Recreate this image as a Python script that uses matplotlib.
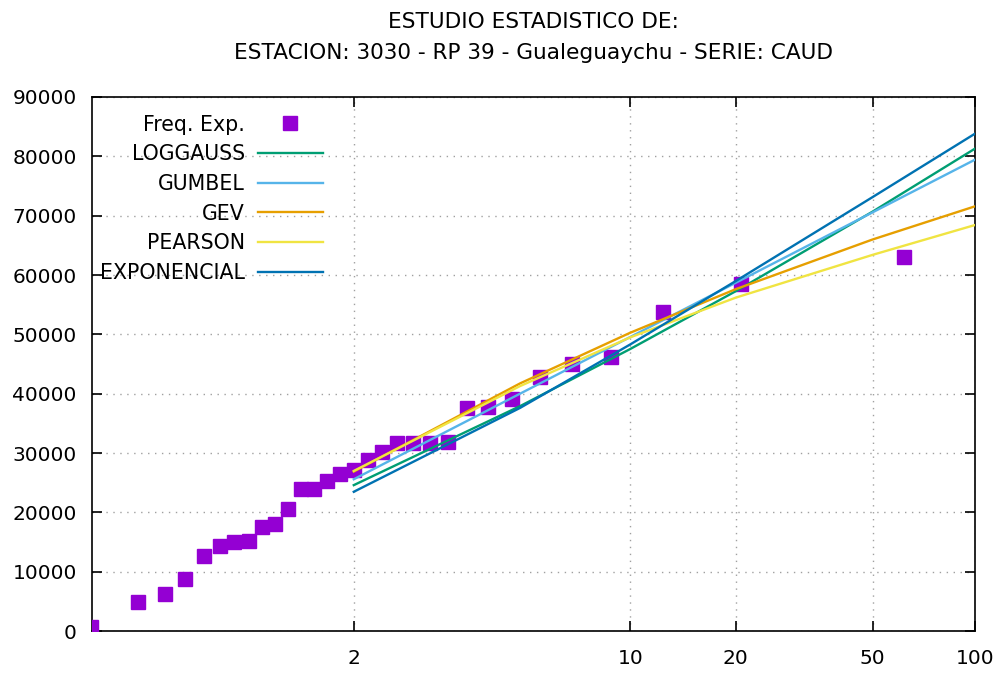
import numpy as np
import matplotlib
matplotlib.use("Agg")
import matplotlib.pyplot as plt
from matplotlib.ticker import NullLocator, FixedLocator

# Observed annual maxima (return period in years, discharge)
periodos_obs = [1.016, 1.051, 1.088, 1.127, 1.170, 1.216, 1.265, 1.319, 1.378, 1.442,
                1.512, 1.590, 1.676, 1.771, 1.879, 2.000, 2.138, 2.296, 2.480, 2.696,
                2.952, 3.263, 3.647, 4.133, 4.769, 5.636, 6.889, 8.857, 12.40, 20.67,
                62.00]
caudal_obs = [700, 4970, 6210, 8740, 12710, 14390, 14960, 15240, 17490, 18050,
              20570, 23940, 23940, 25340, 26460, 27140, 28820, 30110, 31630, 31630,
              31730, 31900, 37520, 37800, 39090, 42850, 44980, 46210, 53790, 58450,
              63050]

# Fitted distributions evaluated at design return periods
periodos_ajuste = [2, 5, 10, 20, 50, 100]
loggauss = [24610, 37920, 47540, 57290, 70680, 81300]
gumbel = [25600, 40020, 49560, 58710, 70560, 79440]
gev = [26900, 41750, 50280, 57630, 65990, 71580]
pearson = [27000, 41300, 49500, 56200, 63400, 68430]
exponencial = [23490, 37620, 48310, 59000, 73130, 83820]

x_ticks = [2, 10, 20, 50, 100]
y_ticks = list(range(0, 90001, 10000))

titulo = "ESTUDIO ESTADISTICO DE:\nESTACION: 3030 - RP 39 - Gualeguaychu - SERIE: CAUD"


def gumbel_fwd(t):
    t = np.clip(np.asarray(t, dtype=float), 1.0000001, None)
    return -np.log(-np.log(1.0 - 1.0 / t))


def gumbel_inv(y):
    y = np.asarray(y, dtype=float)
    return 1.0 / (1.0 - np.exp(-np.exp(-y)))


plt.rcParams["font.family"] = ["DejaVu Sans"]
FS_TICK = 14.5
FS_LEG = 14.8
FS_TITLE = 15.6

fig = plt.figure(figsize=(10, 6.73), dpi=100)
ax = fig.add_axes([0.092, 0.0621, 0.883, 0.7938])

ax.set_xscale("function", functions=(gumbel_fwd, gumbel_inv))

ax.plot(periodos_obs, caudal_obs, linestyle="none", marker="s", markersize=10,
        color="#9400d3", label="Freq. Exp.", zorder=3)

series = [
    ("LOGGAUSS", loggauss, "#009e73"),
    ("GUMBEL", gumbel, "#56b4e9"),
    ("GEV", gev, "#e69f00"),
    ("PEARSON", pearson, "#f0e442"),
    ("EXPONENCIAL", exponencial, "#0072b2"),
]
for nombre, valores, color in series:
    ax.plot(periodos_ajuste, valores, color=color, linewidth=1.7, label=nombre, zorder=4)

ax.set_xlim(31 / 30.5, 100)
ax.set_ylim(0, 90000)
ax.xaxis.set_major_locator(FixedLocator(x_ticks))
ax.xaxis.set_minor_locator(NullLocator())
ax.set_xticklabels([str(v) for v in x_ticks])
ax.set_yticks(y_ticks)
ax.set_yticklabels([str(v) for v in y_ticks])

ax.grid(True, color="#a0a0a0", linestyle=(0, (1, 4)), linewidth=1.0)
ax.set_axisbelow(True)

ax.tick_params(axis="both", which="major", direction="in", length=7, width=1.2,
               top=True, right=True, labelsize=FS_TICK, colors="black")
ax.tick_params(axis="x", pad=13)
ax.tick_params(axis="y", pad=11)
for sp in ax.spines.values():
    sp.set_linewidth(1.2)
    sp.set_color("black")

ax.set_title(titulo, fontsize=FS_TITLE, linespacing=1.65, pad=27.7)

leg = ax.legend(loc="upper right", bbox_to_anchor=(0.2616, 0.967), frameon=False,
                markerfirst=False, fontsize=FS_LEG, handlelength=3.17, handletextpad=0.63,
                labelspacing=0.47, borderpad=0, borderaxespad=0, numpoints=1)

fig.savefig("out.png", dpi=100)
